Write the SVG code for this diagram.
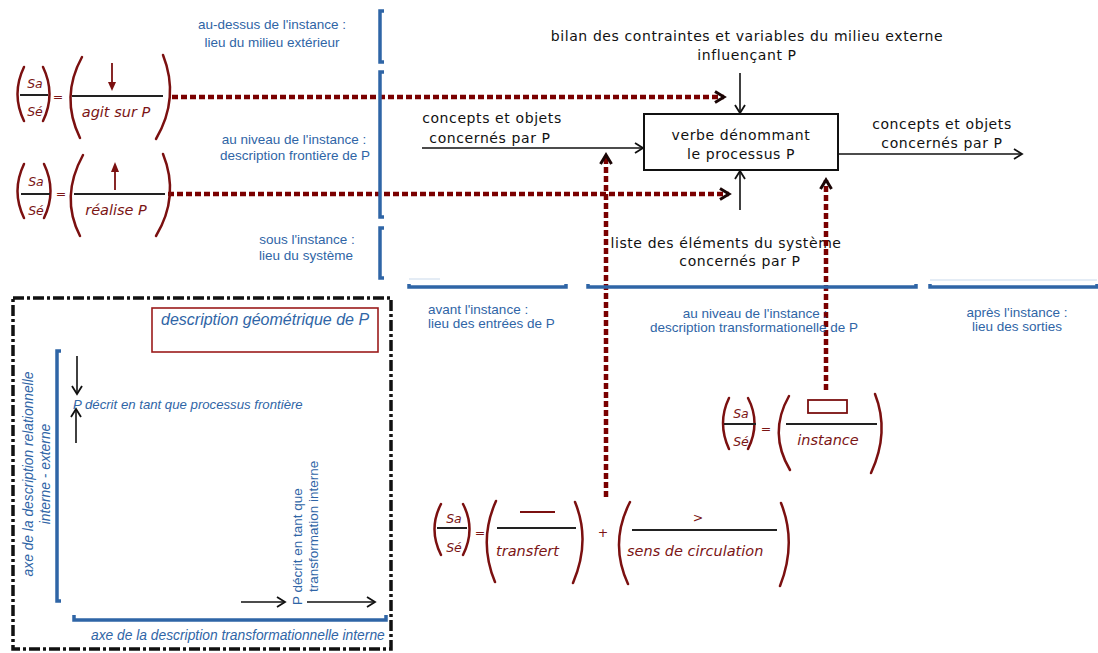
<svg xmlns="http://www.w3.org/2000/svg" width="1098" height="653" viewBox="0 0 1098 653">
<defs>
<style>
.blk{font-family:"DejaVu Sans",Verdana,sans-serif;font-size:14px;letter-spacing:0.6px;fill:#111}
.blu{font-family:"Liberation Sans",Arial,sans-serif;font-size:13.5px;fill:#2f65a6}
.blui{font-family:"Liberation Sans",Arial,sans-serif;font-style:italic;fill:#2f65a6}
.red{font-family:"DejaVu Sans",Verdana,sans-serif;font-style:italic;font-size:14.5px;fill:#7b1515}
.sm{font-family:"DejaVu Sans",Verdana,sans-serif;font-style:italic;font-size:12.5px;fill:#7b1515}
.par{fill:none;stroke:#7b1010;stroke-width:2.5;stroke-linecap:round}
.bar{stroke:#222;stroke-width:2}
.brk{fill:none;stroke:#2f65a6;stroke-width:3.5}
.dot{fill:none;stroke:#7a0000;stroke-width:4.5;stroke-dasharray:6 3}
.arr{fill:none;stroke:#111;stroke-width:1.6}
</style>
<marker id="ah" markerWidth="12" markerHeight="12" refX="9" refY="6" orient="auto" markerUnits="userSpaceOnUse">
<path d="M1,1 L9,6 L1,11" fill="none" stroke="#111" stroke-width="1.8"/>
</marker>
<marker id="dh" markerWidth="14" markerHeight="14" refX="11" refY="7" orient="auto" markerUnits="userSpaceOnUse">
<path d="M2,1.5 L11,7 L2,12.5" fill="none" stroke="#1a0505" stroke-width="3"/>
</marker>
</defs>
<rect width="1098" height="653" fill="#fff"/>

<g id="process">
<rect x="644" y="114" width="194" height="56" fill="#fff" stroke="#111" stroke-width="2"/>
<text class="blk" x="741" y="140" text-anchor="middle" letter-spacing="0.4px">verbe dénommant</text>
<text class="blk" x="741" y="159" text-anchor="middle" letter-spacing="0.4px">le processus P</text>
</g>

<g id="labels-black">
<text class="blk" x="747" y="41" text-anchor="middle">bilan des contraintes et variables du milieu externe</text>
<text class="blk" x="747" y="60" text-anchor="middle">influençant P</text>
<text class="blk" x="492" y="123" text-anchor="middle">concepts et objets</text>
<text class="blk" x="490" y="143" text-anchor="middle">concernés par P</text>
<text class="blk" x="942" y="129" text-anchor="middle">concepts et objets</text>
<text class="blk" x="942" y="148" text-anchor="middle">concernés par P</text>
<text class="blk" x="726" y="248" text-anchor="middle">liste des  éléments du système</text>
<text class="blk" x="740" y="266" text-anchor="middle">concernés par P</text>
</g>

<g id="connectors">
<line class="arr" x1="740" y1="73" x2="740" y2="113" marker-end="url(#ah)"/>
<line class="arr" x1="422" y1="148" x2="643" y2="148" marker-end="url(#ah)"/>
<line class="arr" x1="838" y1="154" x2="1022" y2="154" marker-end="url(#ah)"/>
<line class="arr" x1="740" y1="210" x2="740" y2="171" marker-end="url(#ah)"/>
<line class="dot" x1="172" y1="97" x2="724" y2="97" marker-end="url(#dh)"/>
<line class="dot" x1="168" y1="194" x2="729" y2="194" marker-end="url(#dh)"/>
<line class="dot" x1="606" y1="497" x2="606" y2="155" marker-end="url(#dh)"/>
<line class="dot" x1="826" y1="390" x2="826" y2="180" marker-end="url(#dh)"/>
</g>

<g id="brackets-left">
<path class="brk" d="M384,11 L380,11 L380,62 L384,62"/>
<path class="brk" d="M384,72 L380,72 L380,217 L384,217"/>
<path class="brk" d="M384,228 L380,228 L380,278 L384,278"/>
<text class="blu" x="272" y="29" text-anchor="middle">au-dessus de l'instance :</text>
<text class="blu" x="272" y="47" text-anchor="middle">lieu du milieu extérieur</text>
<text class="blu" x="294" y="144" text-anchor="middle">au niveau de l'instance :</text>
<text class="blu" x="295" y="160" text-anchor="middle">description frontière de P</text>
<text class="blu" x="307" y="244" text-anchor="middle">sous l'instance :</text>
<text class="blu" x="306" y="260" text-anchor="middle">lieu du système</text>
</g>

<g id="brackets-bottom">
<path class="brk" d="M409,284 L409,287 L566,287 L566,284"/>
<path class="brk" d="M588,284 L588,287 L916,287 L916,284"/>
<path class="brk" d="M930,284 L930,287 L1097,287 L1097,284"/>
<line x1="409" y1="279" x2="440" y2="279" stroke="#dbe6f2" stroke-width="1.5"/>
<line x1="930" y1="280" x2="1097" y2="280" stroke="#dbe6f2" stroke-width="1.5"/>
<text class="blu" x="428" y="314">avant l'instance :</text>
<text class="blu" x="428" y="328">lieu des entrées de P</text>
<text class="blu" x="755" y="318" text-anchor="middle">au niveau de l'instance :</text>
<text class="blu" x="754" y="332" text-anchor="middle">description transformationelle de P</text>
<text class="blu" x="1017" y="317" text-anchor="middle">après l'instance :</text>
<text class="blu" x="1017" y="331" text-anchor="middle">lieu des sorties</text>
</g>

<g id="formula-agit">
<path class="par" d="M24,67 Q11,94 24,121"/>
<path class="par" d="M43,67 Q56,94 43,121"/>
<text class="sm" x="35" y="88" text-anchor="middle">Sa</text>
<line class="bar" x1="20" y1="95" x2="48" y2="95"/>
<text class="sm" x="35" y="116" text-anchor="middle">Sé</text>
<text class="sm" x="58" y="101" text-anchor="middle" font-size="9">=</text>
<path class="par" d="M82,57 Q60,97 80,138"/>
<path class="par" d="M163,55 Q180,98 156,139"/>
<line x1="112" y1="63" x2="112" y2="86" stroke="#7b1010" stroke-width="1.8"/>
<path d="M108,82 L112,91 L116,82 Z" fill="#7b1010"/>
<line class="bar" x1="72" y1="96" x2="163" y2="96"/>
<text class="red" x="116" y="117" text-anchor="middle">agit sur P</text>
</g>

<g id="formula-realise">
<path class="par" d="M24,164 Q11,191 24,218"/>
<path class="par" d="M44,164 Q57,191 44,218"/>
<text class="sm" x="36" y="186" text-anchor="middle">Sa</text>
<line class="bar" x1="21" y1="194" x2="50" y2="194"/>
<text class="sm" x="36" y="215" text-anchor="middle">Sé</text>
<text class="sm" x="61" y="198" text-anchor="middle" font-size="9">=</text>
<path class="par" d="M83,155 Q60,197 80,236"/>
<path class="par" d="M163,154 Q180,196 156,236"/>
<line x1="115" y1="190" x2="115" y2="168" stroke="#7b1010" stroke-width="1.8"/>
<path d="M111,172 L115,162 L119,172 Z" fill="#7b1010"/>
<line class="bar" x1="74" y1="194" x2="165" y2="194"/>
<text class="red" x="116" y="215" text-anchor="middle">réalise P</text>
</g>

<g id="formula-instance">
<path class="par" d="M729,398 Q717,423 729,449"/>
<path class="par" d="M748,398 Q761,423 748,449"/>
<text class="sm" x="741" y="418" text-anchor="middle">Sa</text>
<line class="bar" x1="724" y1="424" x2="756" y2="424"/>
<text class="sm" x="741" y="446" text-anchor="middle">Sé</text>
<text class="sm" x="766" y="433" text-anchor="middle" font-size="9">=</text>
<path class="par" d="M789,396 Q768,433 790,470"/>
<path class="par" d="M875,394 Q890,432 871,473"/>
<rect x="808" y="400" width="39" height="13" fill="none" stroke="#7b1010" stroke-width="1.8"/>
<line class="bar" x1="786" y1="424" x2="877" y2="424"/>
<text class="red" x="828" y="445" text-anchor="middle">instance</text>
</g>

<g id="formula-transfert">
<path class="par" d="M441,504 Q428,529 441,555"/>
<path class="par" d="M463,504 Q476,529 463,555"/>
<text class="sm" x="454" y="523" text-anchor="middle">Sa</text>
<line class="bar" x1="437" y1="528" x2="467" y2="528"/>
<text class="sm" x="454" y="552" text-anchor="middle">Sé</text>
<text class="sm" x="480" y="537" text-anchor="middle" font-size="9">=</text>
<path class="par" d="M496,501 Q478,541 495,582"/>
<path class="par" d="M575,502 Q591,541 573,583"/>
<line x1="520" y1="512" x2="555" y2="512" stroke="#7b1010" stroke-width="2"/>
<line class="bar" x1="497" y1="528" x2="576" y2="528"/>
<text class="red" x="496" y="556">transfert</text>
<text class="sm" x="603" y="537" text-anchor="middle" font-size="9">+</text>
<path class="par" d="M630,502 Q609,543 628,584"/>
<path class="par" d="M781,503 Q797,543 780,586"/>
<text class="sm" x="698" y="522" text-anchor="middle" font-size="8">&gt;</text>
<line class="bar" x1="632" y1="530" x2="777" y2="530"/>
<text class="red" x="627" y="556">sens de circulation</text>
</g>

<g id="geometric-box">
<rect x="13" y="298" width="378" height="351" fill="none" stroke="#111" stroke-width="3.5" stroke-dasharray="11 3 3 3"/>
<rect x="152" y="308" width="226" height="44" fill="#fff" stroke="#9b1b1b" stroke-width="1.6"/>
<text class="blui" x="161" y="325" font-size="16px">description géométrique de P</text>
<path class="brk" d="M61,351 L57,351 L57,601 L61,601"/>
<text class="blui" font-size="13.8px" transform="translate(33,474) rotate(-90)" text-anchor="middle">axe de la description relationnelle</text>
<text class="blui" font-size="13.8px" transform="translate(50,474) rotate(-90)" text-anchor="middle">interne - externe</text>
<line class="arr" x1="77" y1="356" x2="77" y2="394" marker-end="url(#ah)"/>
<line class="arr" x1="76" y1="443" x2="76" y2="409" marker-end="url(#ah)"/>
<text class="blui" font-size="13.2px" x="73" y="409">P décrit en tant que processus frontière</text>
<path class="brk" d="M74,615 L74,620 L386,620 L386,615"/>
<text class="blui" font-size="13.8px" x="91" y="640">axe de la description transformationnelle interne</text>
<line class="arr" x1="241" y1="602" x2="285" y2="602" marker-end="url(#ah)"/>
<line class="arr" x1="307" y1="602" x2="375" y2="602" marker-end="url(#ah)"/>
<text class="blu" font-size="12.6px" transform="translate(302,605) rotate(-90)">P décrit en tant que</text>
<text class="blu" font-size="13px" transform="translate(318,592) rotate(-90)">transformation interne</text>
</g>
</svg>
